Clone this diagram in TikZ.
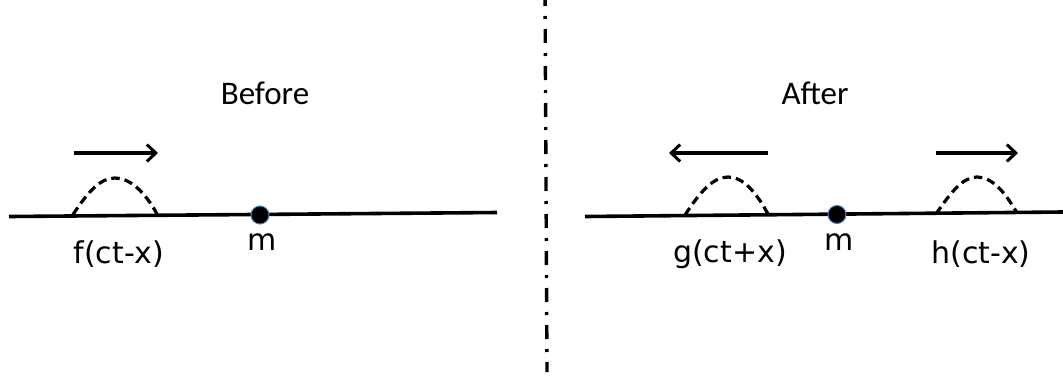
\documentclass[tikz,border=0pt]{standalone}
\usepackage{fontspec}
\setmainfont{Carlito}
\newfontfamily\labelfont{DejaVu Sans}
\usetikzlibrary{arrows.meta}
\definecolor{dotblue}{HTML}{4F81BD}
\tikzset{
  baseline/.style={line width=3.6pt},
  hump/.style={line width=3.2pt, dash pattern=on 8.5pt off 5pt},
  motion/.style={line width=3.6pt, -{Straight Barb[length=9pt,width=17pt,line width=3pt]}},
  mass/.style={circle, fill=black, draw=dotblue, line width=1pt, minimum size=18pt, inner sep=0pt},
  title/.style={font=\fontsize{33pt}{36pt}\selectfont, inner sep=0pt},
  wave/.style={font=\labelfont\fontsize{30pt}{34pt}\selectfont, inner sep=0pt},
  divider/.style={line width=3.4pt, dash pattern=on 14pt off 10pt on 3pt off 10pt}
}
\begin{document}
\begin{tikzpicture}[x=1pt,y=-1pt]
\useasboundingbox (0,0) rectangle (1063,375);
% divider
\coordinate (dtop) at (545,-8);
\coordinate (dbot) at (547,372);
\draw[divider] (dtop) -- (dbot);
% titles
\node[title] (before) at (265,93) {Before};
\node[title] (after) at (815,93) {After};
% left panel
\coordinate (L1) at (9,216.5);
\coordinate (L2) at (497,212.5);
\draw[baseline] (L1) -- (L2);
\draw[hump] (73,214.5) .. controls (88,192) and (100,178) .. (115,178) .. controls (130,178) and (145,192) .. (157,214);
\coordinate (a1s) at (74,153);
\coordinate (a1e) at (158,153);
\draw[motion] (a1s) -- (a1e);
\node[mass] (m1) at (260,215) {};
\node[wave] (f) at (119,254) {f(ct-x)};
\node[wave] (m1l) at (262,242) {m};
% right panel
\coordinate (R1) at (585,216.5);
\coordinate (R2) at (1063,212);
\draw[baseline] (R1) -- (R2);
\draw[hump] (685,215) .. controls (700,192) and (713,177) .. (728,177) .. controls (743,177) and (756,192) .. (768,214);
\draw[hump] (936,214) .. controls (951,192) and (963,177) .. (977,177) .. controls (992,177) and (1005,192) .. (1017,213);
\coordinate (a2s) at (768,153);
\coordinate (a2e) at (669,153);
\draw[motion] (a2s) -- (a2e);
\coordinate (a3s) at (936,153);
\coordinate (a3e) at (1018,153);
\draw[motion] (a3s) -- (a3e);
\node[mass] (m2) at (837,214.5) {};
\node[wave] (g) at (730,254) {g(ct+x)};
\node[wave] (m2l) at (839,242) {m};
\node[wave] (h) at (981,254) {h(ct-x)};
\end{tikzpicture}
\end{document}
